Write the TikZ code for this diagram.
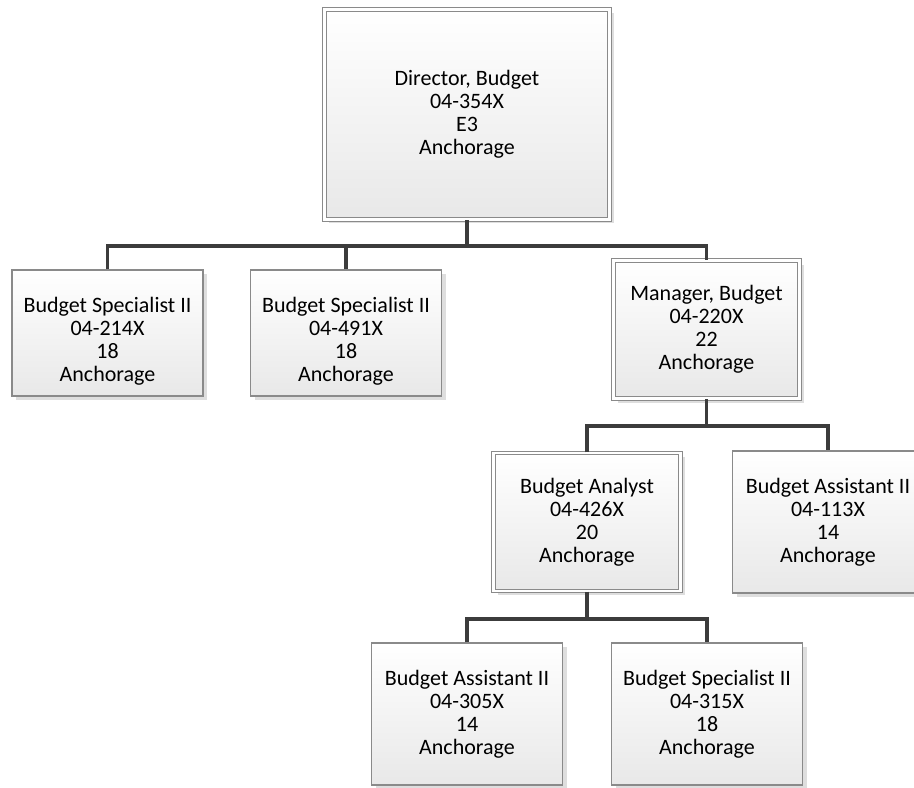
\documentclass[tikz,border=0pt]{standalone}
\usepackage{fontspec}
\setmainfont{Carlito}
\usetikzlibrary{shadows}
\definecolor{boxline}{HTML}{8A8A8A}
\definecolor{linkline}{HTML}{3C3C3C}

\begin{document}
\begin{tikzpicture}[x=0.75pt,y=-0.75pt,
	post/.style={draw=boxline,line width=1.1pt,top color=white,bottom color=black!9,
		align=center,inner sep=0pt,font=\fontsize{16.5}{17.25}\selectfont,
		minimum width=143.25pt,minimum height=94.5pt,
		drop shadow={shadow xshift=3pt,shadow yshift=-3pt,fill=black!13,opacity=1}},
	toppost/.style={post,text height=76pt},
	lowpost/.style={post,minimum height=106.5pt},
	headpost/.style={post,double=white,double distance=2pt,line width=0.8pt},
	link/.style={draw=linkline,line width=2.4pt}]
	\useasboundingbox (0,0) rectangle (914,788);

	\node[headpost,minimum width=213.75pt,minimum height=157.5pt] (dir) at (467,114.5) {Director, Budget\\04-354X\\E3\\Anchorage};
	\node[toppost] (spec1) at (107.5,333) {Budget Specialist II\\04-214X\\18\\Anchorage};
	\node[toppost] (spec2) at (346,333) {Budget Specialist II\\04-491X\\18\\Anchorage};
	\node[headpost,minimum width=139.5pt,minimum height=103.5pt] (mgr) at (706.5,329.5) {Manager, Budget\\04-220X\\22\\Anchorage};
	\node[headpost,minimum width=140.25pt,minimum height=103.5pt] (analyst) at (587,522) {Budget Analyst\\04-426X\\20\\Anchorage};
	\node[lowpost] (asst1) at (828,522) {Budget Assistant II\\04-113X\\14\\Anchorage};
	\node[lowpost] (asst2) at (467,714) {Budget Assistant II\\04-305X\\14\\Anchorage};
	\node[lowpost] (spec3) at (707,714) {Budget Specialist II\\04-315X\\18\\Anchorage};

	\coordinate (bus1) at (467,246);
	\coordinate (bus2) at (706.5,426);
	\coordinate (bus3) at (587,619);
	\draw[link] (dir.south) -- (bus1);
	\draw[link] (spec1.north) |- (bus1) -| (mgr.north);
	\draw[link] (spec2.north) -- (spec2.north |- bus1);
	\draw[link] (mgr.south) -- (bus2);
	\draw[link] (analyst.north) |- (bus2) -| (asst1.north);
	\draw[link] (analyst.south) -- (bus3);
	\draw[link] (asst2.north) |- (bus3) -| (spec3.north);
\end{tikzpicture}
\end{document}
